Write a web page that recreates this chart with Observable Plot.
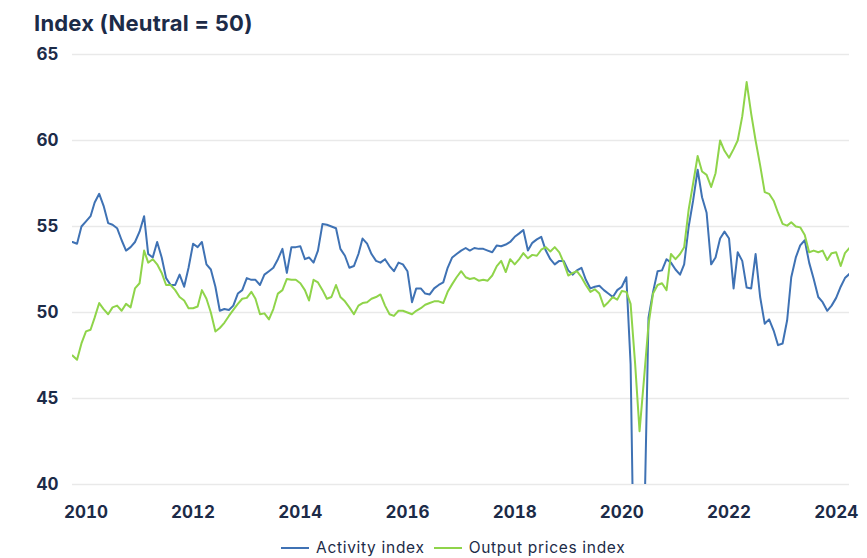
<!DOCTYPE html>
<html>
<head>
<meta charset="utf-8">
<script src="https://cdn.jsdelivr.net/npm/d3@7"></script>
<script src="https://cdn.jsdelivr.net/npm/@observablehq/plot@0.6"></script>
<style>
  html, body { margin: 0; padding: 0; background: #ffffff; }
  body { width: 867px; height: 558px; position: relative; overflow: hidden; font-family: Inter, "Open Sans", sans-serif; color: #1c2b48; }
  #title { position: absolute; left: 34px; top: 10px; font-size: 22px; font-weight: 700; line-height: 1.2; letter-spacing: 0.2px; }
  #chart { position: absolute; left: 0; top: 42px; }
  #legend { position: absolute; left: 281px; top: 539px; display: flex; align-items: center; font-size: 15.5px; line-height: 18px; letter-spacing: 0.7px; }
  .item { display: flex; align-items: center; margin-right: 9px; }
  .swatch { width: 28px; height: 2px; margin-right: 7px; }
</style>
</head>
<body>
<div id="title">Index (Neutral = 50)</div>
<div id="chart"></div>
<div id="legend"></div>
<script>
// Monthly series, first month October 2009, last month April 2024
const seriesNames = ["Activity index", "Output prices index"];
const seriesColors = ["#3f72b4", "#8fd44a"];
const yTickValues = [40, 45, 50, 55, 60, 65];
const xTickYears = [2010, 2012, 2014, 2016, 2018, 2020, 2022, 2024];

const activity = [
  54.1, 54.0, 55.0, 55.3, 55.6, 56.4, 56.9, 56.2, 55.2, 55.1,
  54.9, 54.2, 53.6, 53.8, 54.1, 54.7, 55.6, 53.4, 53.2, 54.1,
  53.2, 52.0, 51.6, 51.6, 52.2, 51.5, 52.6, 54.0, 53.8, 54.1,
  52.8, 52.5, 51.5, 50.1, 50.2, 50.15, 50.4, 51.1, 51.3, 52.0,
  51.9, 51.9, 51.6, 52.2, 52.4, 52.6, 53.1, 53.7, 52.3, 53.8,
  53.8, 53.85, 53.1, 53.2, 52.9, 53.6, 55.15, 55.1, 55.0, 54.9,
  53.7, 53.3, 52.6, 52.7, 53.4, 54.3, 54.0, 53.4, 53.0, 52.9,
  53.1, 52.7, 52.4, 52.9, 52.8, 52.4, 50.6, 51.4, 51.4, 51.1,
  51.05, 51.4, 51.6, 51.75, 52.6, 53.2, 53.4, 53.6, 53.75, 53.6,
  53.75, 53.7, 53.7, 53.6, 53.5, 53.9, 53.85, 53.95, 54.1, 54.4,
  54.6, 54.8, 53.6, 54.05, 54.25, 54.4, 53.6, 53.1, 52.8, 53.0,
  53.0, 52.45, 52.2, 52.45, 52.6, 51.9, 51.4, 51.5, 51.55, 51.3,
  51.1, 50.9, 51.3, 51.5, 52.05, 47.0, 30.0, 32.0, 37.0, 49.7,
  51.2, 52.4, 52.45, 53.1, 52.9, 52.5, 52.2, 52.8, 55.0, 56.5,
  58.3, 56.7, 55.8, 52.8, 53.2, 54.3, 54.7, 54.3, 51.4, 53.5,
  53.0, 51.45, 51.4, 53.4, 50.9, 49.35, 49.6, 48.95, 48.1, 48.2,
  49.55, 52.05, 53.2, 53.9, 54.2, 52.9, 51.95, 50.9, 50.6, 50.1,
  50.4, 50.85, 51.5, 52.0, 52.25
];

const outputPrices = [
  47.5, 47.25, 48.2, 48.9, 49.0, 49.7, 50.55, 50.2, 49.9, 50.3,
  50.4, 50.1, 50.5, 50.3, 51.4, 51.7, 53.6, 52.9, 53.1, 52.8,
  52.3, 51.6, 51.6, 51.3, 50.9, 50.7, 50.25, 50.25, 50.35, 51.3,
  50.8, 50.0, 48.9, 49.1, 49.4, 49.8, 50.15, 50.5, 50.8, 50.85,
  51.2, 50.8, 49.9, 49.95, 49.6, 50.2, 51.1, 51.3, 51.95, 51.9,
  51.9, 51.7, 51.3, 50.7, 51.9, 51.75, 51.3, 50.8, 50.9, 51.6,
  50.9, 50.65, 50.3, 49.9, 50.4, 50.55, 50.6, 50.8, 50.9, 51.05,
  50.4, 49.9, 49.8, 50.1, 50.1, 50.0, 49.9, 50.1, 50.25, 50.45,
  50.55, 50.65, 50.65, 50.55, 51.2, 51.65, 52.05, 52.4, 52.05, 51.95,
  52.0, 51.85, 51.9, 51.85, 52.15, 52.7, 53.0, 52.35, 53.1, 52.8,
  53.1, 53.45, 53.15, 53.35, 53.3, 53.65, 53.8, 53.55, 53.8, 53.5,
  52.9, 52.15, 52.3, 52.4, 52.05, 51.6, 51.2, 51.35, 51.1, 50.35,
  50.6, 50.9, 50.75, 51.25, 51.2, 50.5, 47.0, 43.1, 46.2, 49.3,
  51.1, 51.6, 51.7, 51.3, 53.4, 53.1, 53.4, 53.8, 56.0, 57.5,
  59.1, 58.2, 58.0, 57.3, 58.1, 60.0, 59.4, 59.0, 59.5, 60.0,
  61.4, 63.4, 61.55, 60.0, 58.55, 57.0, 56.9, 56.5, 55.8, 55.15,
  55.05, 55.25, 55.0, 54.95, 54.5, 53.5, 53.6, 53.5, 53.6, 53.05,
  53.45, 53.5, 52.7, 53.45, 53.75
];

const startMonth = new Date(Date.UTC(2009, 9, 1));
const months = activity.map((_, i) => d3.utcMonth.offset(startMonth, i));
const activityRows = months.map((date, i) => ({ date, value: activity[i] }));
const outputRows = months.map((date, i) => ({ date, value: outputPrices[i] }));
const xTicks = xTickYears.map(y => new Date(Date.UTC(y, 0, 1)));

const textColor = "#1c2b48";

const chart = Plot.plot({
  width: 867,
  height: 490,
  marginTop: 12,
  marginBottom: 48,
  marginLeft: 72,
  marginRight: 18,
  style: { fontFamily: "Inter, 'Open Sans', sans-serif", background: "#ffffff", overflow: "visible" },
  x: { type: "utc", domain: [months[0], months[months.length - 1]] },
  y: { domain: [40, 65] },
  marks: [
    Plot.gridY(yTickValues, { stroke: "#e9e9e9", strokeOpacity: 1, strokeWidth: 1.5 }),
    Plot.axisY(yTickValues, { tickSize: 0, tickPadding: 36, textAnchor: "start", fontSize: 17, fontWeight: 700, fill: textColor, label: null }),
    Plot.axisX(xTicks, { tickSize: 0, tickPadding: 21, tickFormat: "%Y", fontSize: 17, fontWeight: 700, fill: textColor, label: null }),
    Plot.lineY(activityRows, { x: "date", y: "value", stroke: seriesColors[0], strokeWidth: 2, clip: true }),
    Plot.lineY(outputRows, { x: "date", y: "value", stroke: seriesColors[1], strokeWidth: 2, clip: true })
  ]
});
document.getElementById("chart").appendChild(chart);

const legend = document.getElementById("legend");
seriesNames.forEach((name, i) => {
  const item = document.createElement("div");
  item.className = "item";
  const sw = document.createElement("span");
  sw.className = "swatch";
  sw.style.background = seriesColors[i];
  const label = document.createElement("span");
  label.textContent = name;
  item.appendChild(sw);
  item.appendChild(label);
  legend.appendChild(item);
});
</script>
</body>
</html>
